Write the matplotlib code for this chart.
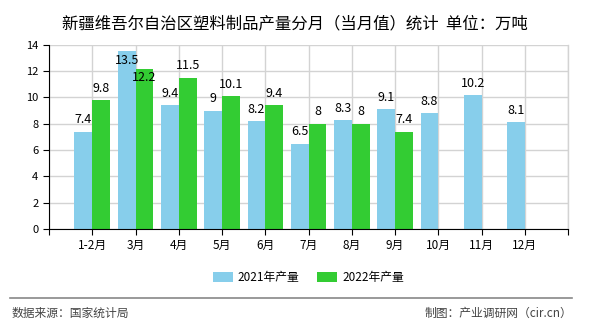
import matplotlib
matplotlib.use("Agg")
import matplotlib.pyplot as plt
import numpy as np

plt.rcParams['font.family'] = ['Noto Sans CJK SC', 'DejaVu Sans']

# data
months = ["1-2月", "3月", "4月", "5月", "6月", "7月", "8月", "9月", "10月", "11月", "12月"]
output_2021 = [7.4, 13.5, 9.4, 9, 8.2, 6.5, 8.3, 9.1, 8.8, 10.2, 8.1]
output_2022 = [9.8, 12.2, 11.5, 10.1, 9.4, 8, 8, 7.4]

fig = plt.figure(figsize=(5.9, 3.3), dpi=100)
ax = fig.add_axes([0.083, 0.306, 0.88, 0.558])

x = np.arange(1, len(months) + 1)
w = 0.41
ax.bar(x[:len(output_2021)] - w / 2, output_2021, w, color="#87CEEB", label="2021年产量", zorder=2)
ax.bar(x[:len(output_2022)] + w / 2, output_2022, w, color="#33CC33", label="2022年产量", zorder=2)

# value labels; ones that would leave the plot are pulled down, stacked like the original
top = 12.8
for xi, v in zip(x, output_2021):
    ax.text(xi - w / 2, min(v + 0.9, top), f"{v:g}", ha="center", va="center", fontsize=9)
for xi, v in zip(x, output_2022):
    y = v + 0.9
    if y > top:
        y = top - 1.3
    ax.text(xi + w / 2, y, f"{v:g}", ha="center", va="center", fontsize=9)

ax.set_xlim(0, 12)
ax.set_ylim(0, 14)
ax.set_yticks(range(0, 15, 2))
ax.set_xticks(range(0, 13))
ax.set_xticklabels([""] + months + [""], fontsize=8.5)
ax.tick_params(axis="y", labelsize=8, length=4)
ax.tick_params(axis="x", length=4)
ax.grid(True, color="#d3d3d3", linewidth=1, zorder=0)
ax.axvline(12, color="#d3d3d3", linewidth=1, zorder=0, clip_on=False)
ax.spines["top"].set_visible(False)
ax.spines["right"].set_visible(False)

ax.legend(loc="upper center", bbox_to_anchor=(0.5, -0.17), ncol=2, frameon=False,
          fontsize=8.5, handlelength=1.7, handleheight=0.9, handletextpad=0.4,
          columnspacing=1.5)

fig.suptitle("新疆维吾尔自治区塑料制品产量分月（当月值）统计  单位：万吨", y=0.955, fontsize=11.8)

fig.add_artist(plt.Line2D([0.017, 0.97], [0.097, 0.097], color="#888888", linewidth=1.2))
fig.text(0.02, 0.04, "数据来源：国家统计局", fontsize=8.5, color="#444444")
fig.text(0.97, 0.04, "制图：产业调研网（cir.cn）", fontsize=8.5, color="#444444", ha="right")

fig.savefig("out.png", dpi=100)
